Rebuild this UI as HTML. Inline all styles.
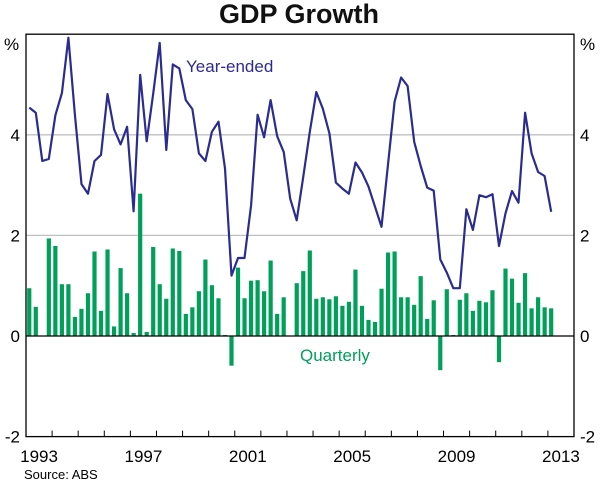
<!DOCTYPE html>
<html><head><meta charset="utf-8"><style>
body{margin:0;background:#fff;}
svg{display:block;font-family:"Liberation Sans",Arial,sans-serif;}
</style></head><body>
<svg id="chart" width="600" height="482" viewBox="0 0 600 482">
<text x="299" y="23" text-anchor="middle" font-size="27" font-weight="bold" fill="#111">GDP Growth</text>
<g id="grid"></g>
<g id="bars"></g>
<g id="lines"></g>
<g id="axes"></g>
<text x="186" y="72" font-size="17" fill="#2b2c8f">Year-ended</text>
<text x="300" y="361" font-size="17" fill="#00a05a">Quarterly</text>
<text x="24" y="479" font-size="13" fill="#000">Source: ABS</text>
</svg>
<script>
const startYear = 1993;
const yearLabels = [1993, 1997, 2001, 2005, 2009, 2013];
const yTicks = [-2, 0, 2, 4];
const yearEnded = [4.54,4.44,3.48,3.52,4.39,4.83,5.93,4.4,3.02,2.83,3.48,3.60,4.81,4.11,3.81,4.16,2.48,5.19,3.87,4.82,
5.83,3.70,5.40,5.32,4.69,4.51,3.63,3.48,4.06,4.26,3.33,1.20,1.55,1.55,2.60,4.40,3.95,4.69,3.97,3.66,
2.73,2.30,3.17,4.06,4.85,4.52,4.03,3.05,2.93,2.83,3.45,3.25,2.97,2.57,2.17,3.43,4.66,5.14,4.97,3.86,
3.38,2.95,2.89,1.52,1.26,0.95,0.95,2.52,2.11,2.80,2.76,2.82,1.79,2.44,2.88,2.65,4.44,3.63,3.26,3.18,2.47];
const quarterly = [0.95,0.58,0,1.94,1.79,1.03,1.03,0.38,0.54,0.85,1.68,0.50,1.72,0.19,1.35,0.85,0.06,2.83,0.08,1.77,
1.03,0.74,1.74,1.69,0.44,0.57,0.89,1.52,1.01,0.75,0.02,-0.59,1.36,0.75,1.10,1.11,0.89,1.50,0.44,0.77,
0,1.05,1.29,1.70,0.74,0.77,0.73,0.79,0.60,0.68,1.32,0.60,0.32,0.28,0.94,1.66,1.68,0.77,0.77,0.62,
1.19,0.34,0.71,-0.68,0.93,0.02,0.72,0.85,0.50,0.70,0.67,0.91,-0.52,1.34,1.14,0.66,1.25,0.55,0.77,0.57,0.55];

const L=26,R=574,nYears=21;
const yrW=(R-L)/nYears;
const xq=i=>L+(i+0.5)*yrW/4;
const xy=y=>L+(y-startYear)*yrW;
const yv=v=>336-v*50.3;
const NS="http://www.w3.org/2000/svg";
function mk(tag,attrs,parent){const e=document.createElementNS(NS,tag);for(const k in attrs)e.setAttribute(k,attrs[k]);document.getElementById(parent).appendChild(e);return e;}

[2,4].forEach(v=>{
 const g=mk('line',{x1:L,x2:R,y1:yv(v),y2:yv(v),stroke:'#c0c0c0','stroke-width':1.3},'grid');
 
 
});
quarterly.forEach((v,i)=>{
 const y0=yv(0),y1=yv(v);
 const b=mk('rect',{x:xq(i)-2.1,y:Math.min(y0,y1),width:4.2,height:Math.abs(y1-y0),fill:'#00a05a'},'bars');
 
 
});
const p=mk('polyline',{points:yearEnded.map((v,i)=>xq(i).toFixed(1)+','+yv(v).toFixed(1)).join(' '),fill:'none',stroke:'#2b2c8f','stroke-width':2.2,'stroke-linejoin':'round'},'lines');



const fr=mk('rect',{x:L,y:yv(6),width:R-L,height:yv(-2)-yv(6),fill:'none',stroke:'#000','stroke-width':1.3},'axes');


const z=mk('line',{x1:L,x2:R,y1:yv(0),y2:yv(0),stroke:'#000','stroke-width':1.3},'axes');


for(let k=1;k<nYears;k++){
 const t=mk('line',{x1:L+k*yrW,x2:L+k*yrW,y1:yv(-2),y2:yv(-2)-6,stroke:'#000','stroke-width':1},'axes');
 
 
}
yearLabels.forEach(y=>{
 const t=mk('text',{x:xy(y)+yrW/2,y:462,'text-anchor':'middle','font-size':17,fill:'#000'},'axes');
 t.textContent=y;
 
 
});
yTicks.forEach(v=>{
 const a=mk('text',{x:20,y:yv(v)+6,'text-anchor':'end','font-size':17,fill:'#000'},'axes');
 a.textContent=v;
 
 
 const b=mk('text',{x:580,y:yv(v)+6,'text-anchor':'start','font-size':17,fill:'#000'},'axes');
 b.textContent=v;
 
 
});
const u1=mk('text',{x:4,y:50,'font-size':17,fill:'#000'},'axes');
u1.textContent='%';


const u2=mk('text',{x:580,y:50,'font-size':17,fill:'#000'},'axes');
u2.textContent='%';


</script>
</body></html>
